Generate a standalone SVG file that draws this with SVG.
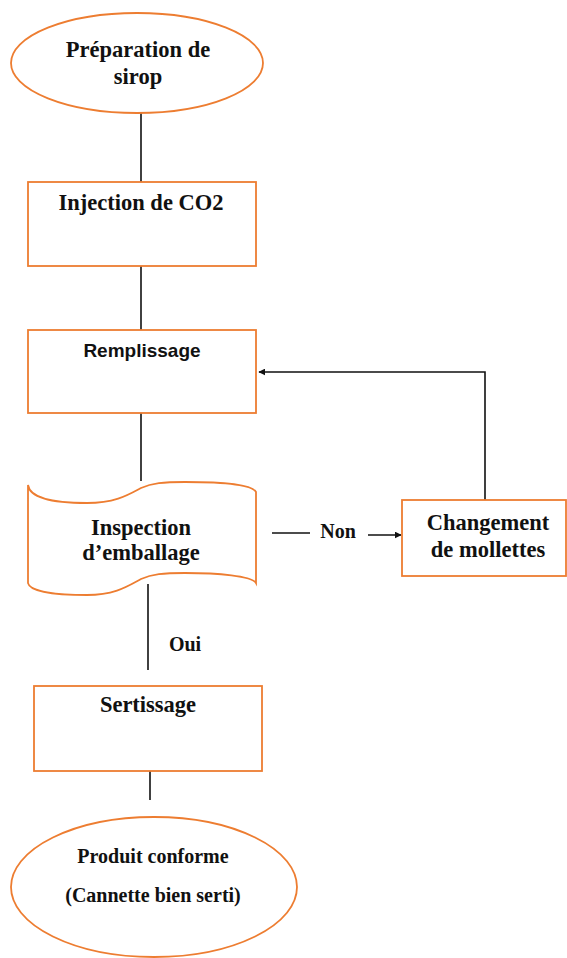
<svg xmlns="http://www.w3.org/2000/svg" width="567" height="958" viewBox="0 0 567 958">
<style>
.n{fill:#fff;stroke:#ED7D31;stroke-width:1.8}
.t{font-family:"Liberation Serif","Times New Roman",serif;font-weight:bold;font-size:22.5px;fill:#111;text-anchor:middle}
.s{font-size:20px}
.sans{font-family:"Liberation Sans",Arial,sans-serif;font-size:19px}
.c{stroke:#111;stroke-width:1.6;fill:none}
</style>
<defs>
<marker id="ah" viewBox="0 0 10 10" refX="9" refY="5" markerWidth="7" markerHeight="7" markerUnits="userSpaceOnUse" orient="auto">
<path d="M0,0 L10,5 L0,10 z" fill="#111"/>
</marker>
</defs>
<rect width="567" height="958" fill="#fff"/>
<g id="connectors">
<line class="c" x1="141" y1="113" x2="141" y2="182"/>
<line class="c" x1="141" y1="266" x2="141" y2="330"/>
<line class="c" x1="141" y1="413" x2="141" y2="481"/>
<line class="c" x1="272" y1="533" x2="310" y2="533"/>
<line class="c" x1="368" y1="535" x2="401" y2="535" marker-end="url(#ah)"/>
<polyline class="c" points="485,500 485,372 259,372" marker-end="url(#ah)"/>
<line class="c" x1="148" y1="584" x2="148" y2="670"/>
<line class="c" x1="150" y1="771" x2="150" y2="800"/>
<text class="t s" x="338" y="538">Non</text>
<text class="t s" x="185" y="651">Oui</text>
</g>
<g id="preparation">
<ellipse class="n" cx="137" cy="63" rx="126" ry="50"/>
<text class="t" x="138" y="57">Préparation de</text>
<text class="t" x="138" y="84">sirop</text>
</g>
<g id="injection">
<rect class="n" x="28" y="182" width="228" height="84"/>
<text class="t" x="141" y="210">Injection de CO2</text>
</g>
<g id="remplissage">
<rect class="n" x="28" y="330" width="228" height="83"/>
<text class="t sans" x="142" y="357">Remplissage</text>
</g>
<g id="inspection">
<path class="n" d="M28,485 C30,499 58,503 87,503 C115,503 128,495 141,488 C152,483 163,482 185,482 C218,482 252,484 256,492 L256,583 C252,576 218,573 185,573 C163,573 152,574 141,579 C128,586 115,595 87,595 C58,595 30,592 28,583 Z"/>
<text class="t" x="141" y="535">Inspection</text>
<text class="t" x="141" y="560">d’emballage</text>
</g>
<g id="changement">
<rect class="n" x="402" y="500" width="164" height="76"/>
<text class="t" x="488" y="530">Changement</text>
<text class="t" x="488" y="557">de mollettes</text>
</g>
<g id="sertissage">
<rect class="n" x="34" y="686" width="228" height="85"/>
<text class="t" x="148" y="712">Sertissage</text>
</g>
<g id="produit">
<ellipse class="n" cx="154" cy="887" rx="143" ry="70"/>
<text class="t s" x="153" y="863">Produit conforme</text>
<text class="t s" x="153" y="902">(Cannette bien serti)</text>
</g>
</svg>
